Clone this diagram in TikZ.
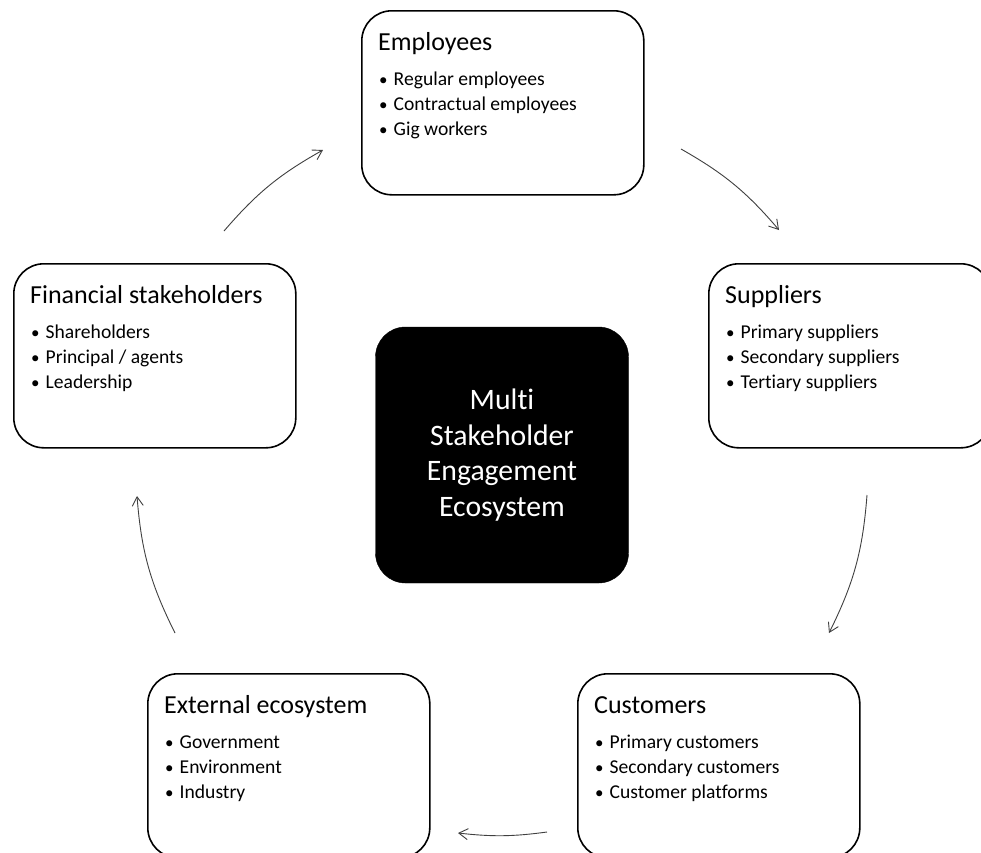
\documentclass[tikz,border=0pt]{standalone}
\usepackage{fontspec}
\setmainfont{Carlito}[Ligatures=NoCommon]
\usetikzlibrary{arrows.meta}
\tikzset{
  bigbox/.style={draw=black, line width=1.6pt, rounded corners=30pt, minimum width=282pt, minimum height=184pt, inner sep=0pt, fill=white},
  hubbox/.style={fill=black, draw=black, rounded corners=30pt, minimum width=253pt, minimum height=256pt, inner sep=0pt, text=white, align=center, font=\fontsize{29.7}{35.5}\selectfont},
  titletext/.style={inner sep=0pt, font=\fontsize{26}{30}\selectfont, text=black},
  itemtext/.style={inner sep=0pt, font=\fontsize{19.6}{25}\selectfont, text=black},
  flow/.style={draw=black!75, line width=0.9pt, -{Straight Barb[length=9pt,width=11pt]}}
}
\newcommand\bul{\makebox[14.5pt][l]{\fontsize{17}{25}\selectfont •}}
\newcommand\stkbox[7]{%
  \node[bigbox, anchor=north west] (#1) at (#2,#3) {};
  \node[titletext, anchor=base west] (#1-t) at ([xshift=17pt,yshift=-40pt]#1.north west) {#4};
  \node[itemtext, anchor=base west] (#1-a) at ([xshift=18pt,yshift=-75pt]#1.north west) {\bul #5};
  \node[itemtext, anchor=base west] (#1-b) at ([xshift=18pt,yshift=-100pt]#1.north west) {\bul #6};
  \node[itemtext, anchor=base west] (#1-c) at ([xshift=18pt,yshift=-125pt]#1.north west) {\bul #7};
}
\begin{document}
\begin{tikzpicture}[x=1pt, y=-1pt]
\useasboundingbox (0,0) rectangle (981,852);
\clip (0,0) rectangle (981,852);
\fill[white] (0,0) rectangle (981,852);

\stkbox{emp}{361}{10}{Employees}{Regular employees}{Contractual employees}{Gig workers}
\stkbox{sup}{708}{263}{Suppliers}{Primary suppliers}{Secondary suppliers}{Tertiary suppliers}
\stkbox{fin}{13}{263}{Financial stakeholders}{Shareholders}{Principal / agents}{Leadership}
\stkbox{cus}{577}{673}{Customers}{Primary customers}{Secondary customers}{Customer platforms}
\stkbox{ext}{147}{673}{External ecosystem}{Government}{Environment}{Industry}

\node[hubbox] (hub) at (502,455) {Multi\\Stakeholder\\Engagement\\Ecosystem};

\coordinate (a1s) at (224,231); \coordinate (a1e) at (323,150);
\coordinate (a2s) at (681,149); \coordinate (a2e) at (779,230);
\coordinate (a3s) at (867,495); \coordinate (a3e) at (829,633);
\coordinate (a4s) at (547,832); \coordinate (a4e) at (458,833);
\coordinate (a5s) at (175,633); \coordinate (a5e) at (137,496);

\draw[flow] (a1s) to[bend left=10] (a1e);
\draw[flow] (a2s) to[bend left=10] (a2e);
\draw[flow] (a3s) to[bend left=11] (a3e);
\draw[flow] (a4s) to[bend left=7] (a4e);
\draw[flow] (a5s) to[bend left=11] (a5e);
\end{tikzpicture}
\end{document}
